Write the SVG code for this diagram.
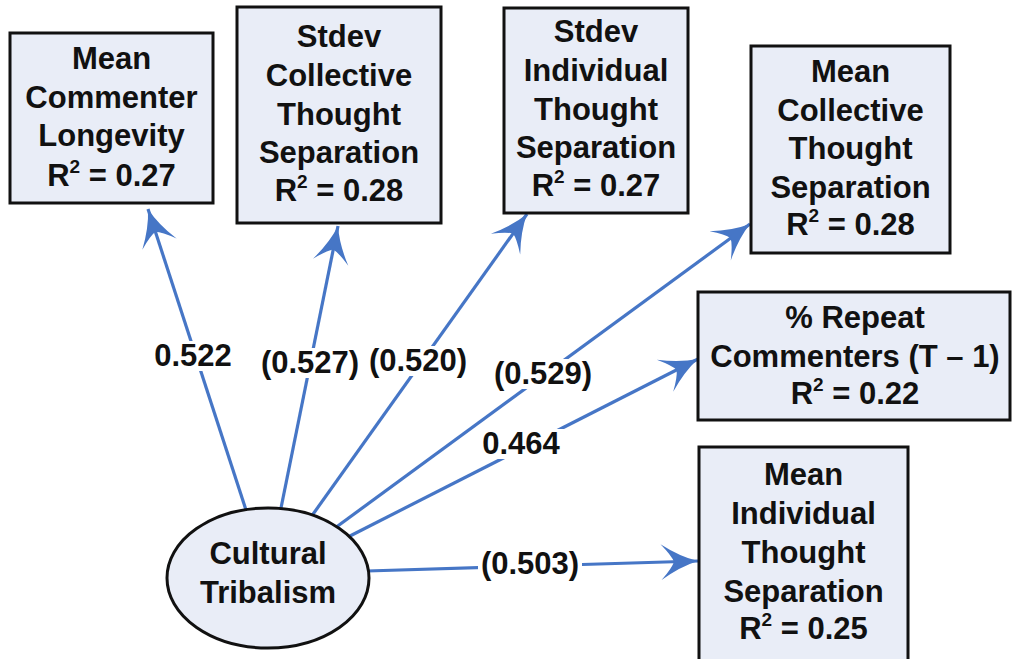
<svg xmlns="http://www.w3.org/2000/svg" width="1013" height="659" viewBox="0 0 1013 659">
  <style>
    .box { fill: #E9EDF7; stroke: #111; stroke-width: 3; }
    .t { font-family: "Liberation Sans", Arial, sans-serif; font-weight: bold; font-size: 31px; fill: #111; text-anchor: middle; }
    .sup { font-size: 19px; }
    .edge { stroke: #4676C6; stroke-width: 3.2; fill: none; marker-end: url(#arrow); }
    .lbl-bg { fill: #fff; }
  </style>
  <defs>
    <marker id="arrow" markerUnits="userSpaceOnUse" viewBox="-40 -20 42 40" refX="0" refY="0" markerWidth="42" markerHeight="40" orient="auto">
      <path d="M0,0 Q-18,-5 -37,-18 Q-26,-6 -24,0 Q-26,6 -37,18 Q-18,5 0,0 Z" fill="#4676C6"/>
    </marker>
  </defs>

  <!-- connectors and their path coefficients -->
  <g id="connectors">
    <line class="edge" x1="246" y1="510" x2="148" y2="209"/>
    <line class="edge" x1="281" y1="508" x2="338" y2="226"/>
    <line class="edge" x1="311" y1="517" x2="527" y2="214"/>
    <line class="edge" x1="335" y1="528" x2="750" y2="224"/>
    <line class="edge" x1="348" y1="537" x2="698" y2="359"/>
    <line class="edge" x1="367" y1="571" x2="698" y2="561"/>

    <rect class="lbl-bg" x="150" y="341" width="86" height="30"/>
    <text class="t" x="193" y="366">0.522</text>
    <rect class="lbl-bg" x="258" y="348" width="104" height="30"/>
    <text class="t" x="310" y="373">(0.527)</text>
    <rect class="lbl-bg" x="366" y="346" width="104" height="30"/>
    <text class="t" x="418" y="371">(0.520)</text>
    <rect class="lbl-bg" x="491" y="359" width="104" height="30"/>
    <text class="t" x="543" y="384">(0.529)</text>
    <rect class="lbl-bg" x="478" y="429" width="86" height="30"/>
    <text class="t" x="521" y="454">0.464</text>
    <rect class="lbl-bg" x="478" y="549" width="104" height="30"/>
    <text class="t" x="530" y="574">(0.503)</text>
  </g>

  <g id="node-longevity">
    <rect class="box" x="10" y="33" width="203" height="170"/>
    <text class="t" x="111.5" y="69">Mean</text>
    <text class="t" x="111.5" y="108">Commenter</text>
    <text class="t" x="111.5" y="146">Longevity</text>
    <text class="t" x="111.5" y="186">R<tspan class="sup" dy="-13">2</tspan><tspan dy="13"> = 0.27</tspan></text>
  </g>

  <g id="node-stdev-collective">
    <rect class="box" x="237" y="7" width="204" height="216"/>
    <text class="t" x="339" y="47">Stdev</text>
    <text class="t" x="339" y="86">Collective</text>
    <text class="t" x="339" y="125">Thought</text>
    <text class="t" x="339" y="163">Separation</text>
    <text class="t" x="339" y="201">R<tspan class="sup" dy="-13">2</tspan><tspan dy="13"> = 0.28</tspan></text>
  </g>

  <g id="node-stdev-individual">
    <rect class="box" x="504" y="8" width="184" height="205"/>
    <text class="t" x="596" y="42">Stdev</text>
    <text class="t" x="596" y="81">Individual</text>
    <text class="t" x="596" y="120">Thought</text>
    <text class="t" x="596" y="158">Separation</text>
    <text class="t" x="596" y="196">R<tspan class="sup" dy="-13">2</tspan><tspan dy="13"> = 0.27</tspan></text>
  </g>

  <g id="node-mean-collective">
    <rect class="box" x="751" y="46" width="199" height="207"/>
    <text class="t" x="850.5" y="82">Mean</text>
    <text class="t" x="850.5" y="121">Collective</text>
    <text class="t" x="850.5" y="159">Thought</text>
    <text class="t" x="850.5" y="198">Separation</text>
    <text class="t" x="850.5" y="235">R<tspan class="sup" dy="-13">2</tspan><tspan dy="13"> = 0.28</tspan></text>
  </g>

  <g id="node-repeat">
    <rect class="box" x="698" y="292" width="312" height="128"/>
    <text class="t" x="855" y="328">% Repeat</text>
    <text class="t" x="855" y="367">Commenters (T – 1)</text>
    <text class="t" x="855" y="404">R<tspan class="sup" dy="-13">2</tspan><tspan dy="13"> = 0.22</tspan></text>
  </g>

  <g id="node-mean-individual">
    <rect class="box" x="699" y="447" width="209" height="225"/>
    <text class="t" x="803.5" y="485">Mean</text>
    <text class="t" x="803.5" y="524">Individual</text>
    <text class="t" x="803.5" y="563">Thought</text>
    <text class="t" x="803.5" y="602">Separation</text>
    <text class="t" x="803.5" y="639">R<tspan class="sup" dy="-13">2</tspan><tspan dy="13"> = 0.25</tspan></text>
  </g>

  <g id="node-tribalism">
    <ellipse class="box" cx="268" cy="578" rx="101" ry="70"/>
    <text class="t" x="268" y="564">Cultural</text>
    <text class="t" x="268" y="603">Tribalism</text>
  </g>
</svg>
